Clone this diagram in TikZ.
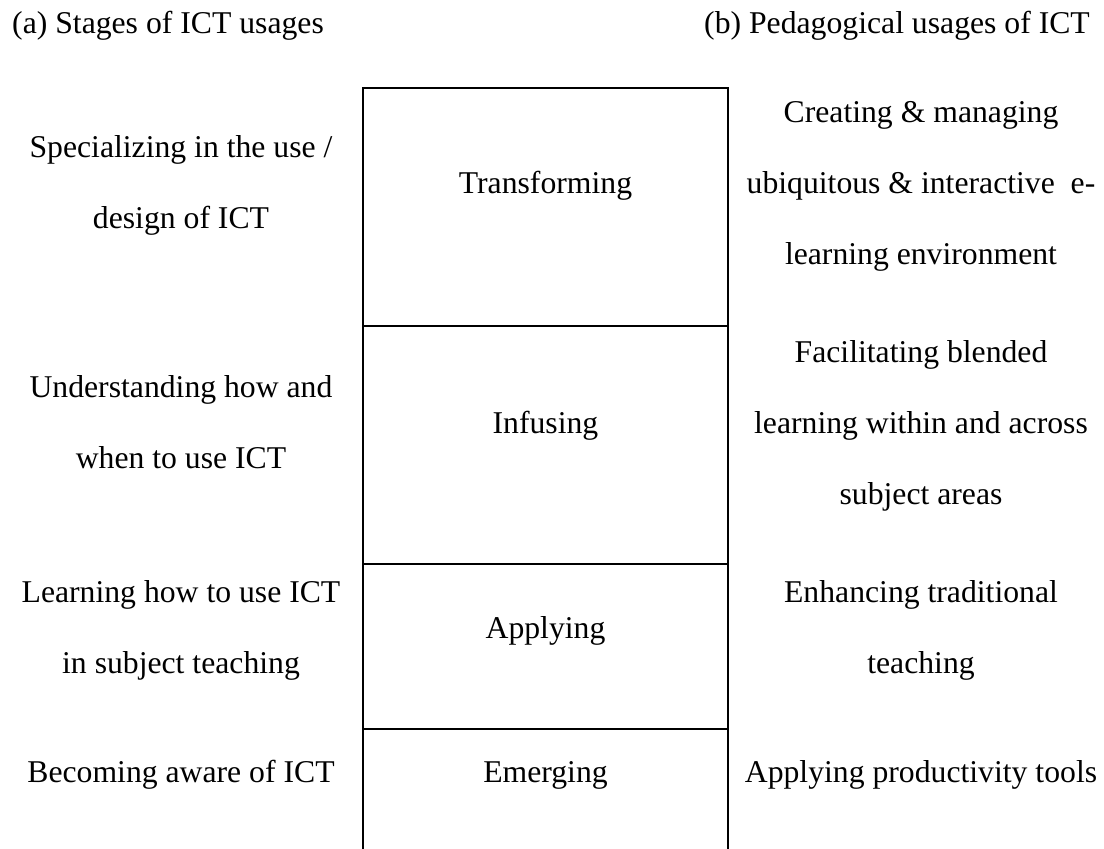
\documentclass[tikz,border=0pt]{standalone}
\usepackage{fontspec}
\setmainfont{Liberation Serif}
\begin{document}
\begin{tikzpicture}[x=1pt,y=-1pt,
  txt/.style={font=\fontsize{31.7}{38}\selectfont, inner sep=0pt, anchor=base},
  rule/.style={line width=2.4pt}]
\useasboundingbox (0,0) rectangle (1104,849);

% column frame, open at the bottom
\coordinate (bl) at (363,849);
\coordinate (tl) at (363,88);
\coordinate (tr) at (728,88);
\coordinate (br) at (728,849);
\draw[rule] (bl) -- (tl) -- (tr) -- (br);
% row separators
\coordinate (l1) at (363,326); \coordinate (r1) at (728,326);
\coordinate (l2) at (363,564); \coordinate (r2) at (728,564);
\coordinate (l3) at (363,729); \coordinate (r3) at (728,729);
\draw[rule] (l1) -- (r1);
\draw[rule] (l2) -- (r2);
\draw[rule] (l3) -- (r3);

% headings
\node[txt, anchor=base west] (ha) at (12,33) {(a) Stages of ICT usages};
\node[txt, anchor=base east] (hb) at (1090,33) {(b) Pedagogical usages of ICT};

% stage names
\node[txt] (s1) at (545.5,193) {Transforming};
\node[txt] (s2) at (545.5,433) {Infusing};
\node[txt] (s3) at (545.5,638) {Applying};
\node[txt] (s4) at (545.5,782) {Emerging};

% stages of ICT usages
\node[txt] (a1a) at (181,157.5) {Specializing in the use /};
\node[txt] (a1b) at (181,228.5) {design of ICT};
\node[txt] (a2a) at (181,397.5) {Understanding how and};
\node[txt] (a2b) at (181,468.5) {when to use ICT};
\node[txt] (a3a) at (181,602) {Learning how to use ICT};
\node[txt] (a3b) at (181,673) {in subject teaching};
\node[txt] (a4) at (181,782) {Becoming aware of ICT};

% pedagogical usages of ICT
\node[txt] (b1a) at (921,122) {Creating \& managing};
\node[txt] (b1b) at (921,193) {ubiquitous \& interactive\ \ e-};
\node[txt] (b1c) at (921,264) {learning environment};
\node[txt] (b2a) at (921,362) {Facilitating blended};
\node[txt] (b2b) at (921,433) {learning within and across};
\node[txt] (b2c) at (921,504) {subject areas};
\node[txt] (b3a) at (921,602) {Enhancing traditional};
\node[txt] (b3b) at (921,673) {teaching};
\node[txt] (b4) at (921,782) {Applying productivity tools};
\end{tikzpicture}
\end{document}
